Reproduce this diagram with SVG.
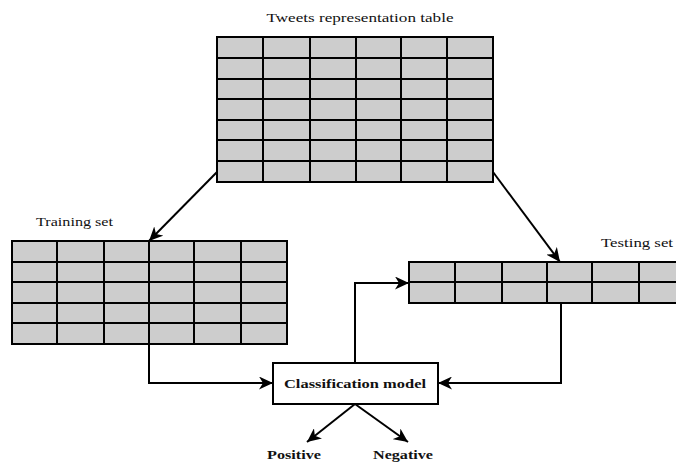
<svg xmlns="http://www.w3.org/2000/svg" width="676" height="462" viewBox="0 0 676 462">
  <style>
    .cells { fill: #cdcdcd; stroke: #000; stroke-width: 2; }
    .grid { fill: none; stroke: #000; stroke-width: 2; }
    .edge { fill: none; stroke: #000; stroke-width: 2; marker-end: url(#arrow); }
    .lbl { font-family: "Liberation Serif", "Times New Roman", serif; font-size: 13px; fill: #111; }
    .bold { font-weight: bold; }
    .box { fill: #fff; stroke: #000; stroke-width: 2; }
  </style>
  <defs>
    <marker id="arrow" markerUnits="userSpaceOnUse" markerWidth="15" markerHeight="13" refX="14" refY="6.5" orient="auto">
      <path d="M0,0 L14,6.5 L0,13 L4,6.5 z" fill="#000"/>
    </marker>
  </defs>

  <rect width="676" height="462" fill="#fff"/>

  <!-- full representation table: 6 columns x 7 rows -->
  <g id="tweets-table">
    <text class="lbl" x="360" y="22" text-anchor="middle" textLength="187" lengthAdjust="spacingAndGlyphs">Tweets representation table</text>
    <rect class="cells" x="217" y="37" width="276" height="145"/>
    <path class="grid" d="M263,37V182 M310,37V182 M356,37V182 M401,37V182 M447,37V182 M217,58H493 M217,79H493 M217,99H493 M217,120H493 M217,140H493 M217,161H493"/>
  </g>

  <!-- training split: 6 columns x 5 rows -->
  <g id="training-set">
    <text class="lbl" x="36" y="226" textLength="77" lengthAdjust="spacingAndGlyphs">Training set</text>
    <rect class="cells" x="12" y="241" width="275" height="103"/>
    <path class="grid" d="M57,241V344 M104,241V344 M149,241V344 M194,241V344 M241,241V344 M12,262H287 M12,282H287 M12,303H287 M12,323H287"/>
  </g>

  <!-- testing split: 6 columns x 2 rows, runs past the right edge -->
  <g id="testing-set">
    <text class="lbl" x="601" y="247" textLength="72" lengthAdjust="spacingAndGlyphs">Testing set</text>
    <rect class="cells" x="409" y="262" width="276" height="41"/>
    <path class="grid" d="M455,262V303 M502,262V303 M547,262V303 M592,262V303 M639,262V303 M409,282H685"/>
  </g>

  <g id="classification-model">
    <rect class="box" x="273" y="363" width="165" height="41"/>
    <text class="lbl bold" x="355" y="388" text-anchor="middle" textLength="142" lengthAdjust="spacingAndGlyphs">Classification model</text>
  </g>

  <g id="positive">
    <text class="lbl bold" x="294" y="459" text-anchor="middle" textLength="54" lengthAdjust="spacingAndGlyphs">Positive</text>
  </g>

  <g id="negative">
    <text class="lbl bold" x="403" y="459" text-anchor="middle" textLength="60" lengthAdjust="spacingAndGlyphs">Negative</text>
  </g>

  <g id="connectors">
    <path class="edge" d="M217,172 L149,241"/>
    <path class="edge" d="M493,172 L560,262"/>
    <path class="edge" d="M149,344 V383 H273"/>
    <path class="edge" d="M561,303 V383 H438"/>
    <path class="edge" d="M355,363 V283 H409"/>
    <path class="edge" d="M355,404 L307,442"/>
    <path class="edge" d="M355,404 L408,442"/>
  </g>
</svg>
